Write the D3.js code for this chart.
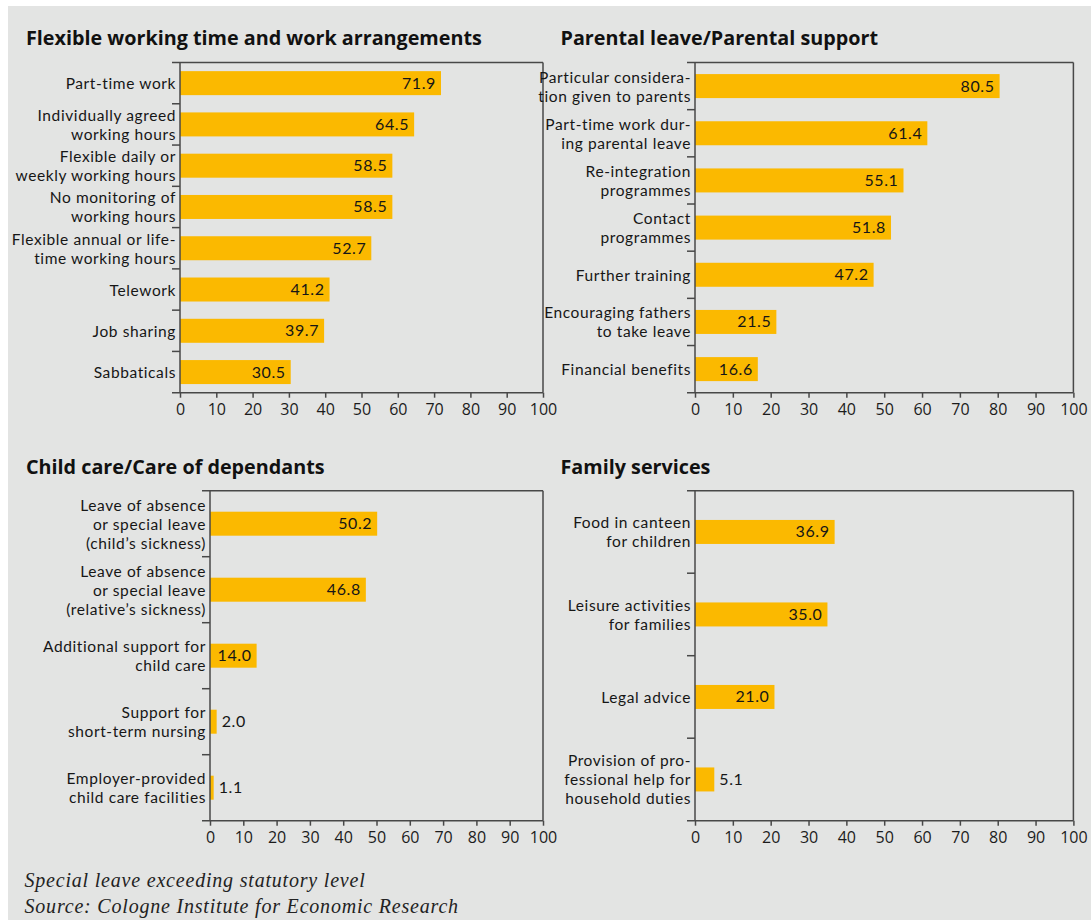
<!DOCTYPE html>
<html>
<head>
<meta charset="utf-8">
<script src="https://cdn.jsdelivr.net/npm/d3@7"></script>
<style>
  html, body { margin: 0; padding: 0; background: #ffffff; }
  svg { display: block; }
  .cat, .val { font-family: Lato, "Open Sans", sans-serif; fill: #161616; letter-spacing: 0.6px; }
  .tick text { font-family: "Open Sans", "Noto Sans", sans-serif; fill: #1c1c1c; }
  .title { font-family: "Open Sans", "Noto Sans", sans-serif; font-weight: 700; fill: #111; }
  .note { font-family: "Liberation Serif", "DejaVu Serif", serif; font-style: italic; fill: #222; letter-spacing: 0.8px; }
</style>
</head>
<body>
<svg id="chart" width="1091" height="920"></svg>
<script>
// Share of companies offering each family-friendly measure, in percent
const panelTitles = [
  "Flexible working time and work arrangements",
  "Parental leave/Parental support",
  "Child care/Care of dependants",
  "Family services"
];

const flexCategories = [
  "Part-time work",
  "Individually agreed\nworking hours",
  "Flexible daily or\nweekly working hours",
  "No monitoring of\nworking hours",
  "Flexible annual or life-\ntime working hours",
  "Telework",
  "Job sharing",
  "Sabbaticals"
];
const flexValues = [71.9, 64.5, 58.5, 58.5, 52.7, 41.2, 39.7, 30.5];

const parentalCategories = [
  "Particular considera-\ntion given to parents",
  "Part-time work dur-\ning parental leave",
  "Re-integration\nprogrammes",
  "Contact\nprogrammes",
  "Further training",
  "Encouraging fathers\nto take leave",
  "Financial benefits"
];
const parentalValues = [80.5, 61.4, 55.1, 51.8, 47.2, 21.5, 16.6];

const careCategories = [
  "Leave of absence\nor special leave\n(child\u2019s sickness)",
  "Leave of absence\nor special leave\n(relative\u2019s sickness)",
  "Additional support for\nchild care",
  "Support for\nshort-term nursing",
  "Employer-provided\nchild care facilities"
];
const careValues = [50.2, 46.8, 14.0, 2.0, 1.1];

const familyCategories = [
  "Food in canteen\nfor children",
  "Leisure activities\nfor families",
  "Legal advice",
  "Provision of pro-\nfessional help for\nhousehold duties"
];
const familyValues = [36.9, 35.0, 21.0, 5.1];

const xTicks = [0, 10, 20, 30, 40, 50, 60, 70, 80, 90, 100];

const footnotes = [
  "Special leave exceeding statutory level",
  "Source: Cologne Institute for Economic Research"
];

// ---- layout ----
const W = 1091, H = 920;
const barColor = "#fbb900";
const lineColor = "#484848";
const barH = 24;
const catFont = 15.5, lineH = 19;

const svg = d3.select("#chart");
svg.append("rect").attr("x", 8).attr("y", 6).attr("width", W - 8).attr("height", H - 6)
  .attr("fill", "#e3e4e3");

const frames = [
  { title: panelTitles[0], cats: flexCategories, vals: flexValues,
    tx: 26, ty: 45, left: 180, right: 543, top: 62.5, bottom: 392.7 },
  { title: panelTitles[1], cats: parentalCategories, vals: parentalValues,
    tx: 560.5, ty: 45, left: 695, right: 1073.4, top: 62.5, bottom: 392.7 },
  { title: panelTitles[2], cats: careCategories, vals: careValues,
    tx: 26, ty: 473.5, left: 210, right: 543, top: 490.7, bottom: 820.7 },
  { title: panelTitles[3], cats: familyCategories, vals: familyValues,
    tx: 560.5, ty: 473.5, left: 695, right: 1073.4, top: 490.7, bottom: 820.7 }
];

frames.forEach(p => {
  const g = svg.append("g");
  const x = d3.scaleLinear().domain([0, 100]).range([p.left, p.right]);
  const y = d3.scaleBand().domain(d3.range(p.cats.length)).range([p.top, p.bottom]);

  g.append("text").attr("class", "title").attr("x", p.tx).attr("y", p.ty)
    .attr("font-size", 19.75).text(p.title);

  // bars
  g.selectAll("rect.bar").data(p.vals).enter().append("rect")
    .attr("class", "bar")
    .attr("x", x(0))
    .attr("y", (d, i) => y(i) + (y.bandwidth() - barH) / 2)
    .attr("width", d => x(d) - x(0))
    .attr("height", barH)
    .attr("fill", barColor);

  // value labels: inside the bar end, or just outside for short bars
  g.selectAll("text.val").data(p.vals).enter().append("text")
    .attr("class", "val")
    .attr("font-size", 16)
    .attr("x", d => d < 10 ? x(d) + 5 : x(d) - 5)
    .attr("y", (d, i) => y(i) + y.bandwidth() / 2 + 5.5)
    .attr("text-anchor", d => d < 10 ? "start" : "end")
    .text(d => d.toFixed(1));

  // category labels (multi-line)
  p.cats.forEach((c, i) => {
    const lines = c.split("\n");
    const cy = y(i) + y.bandwidth() / 2;
    const t = g.append("text").attr("class", "cat").attr("font-size", catFont)
      .attr("text-anchor", "end");
    lines.forEach((ln, k) => {
      t.append("tspan").attr("x", p.left - 4)
        .attr("y", cy - (lines.length - 1) * lineH / 2 + k * lineH + 6)
        .text(ln);
    });
  });

  // frame
  const fr = g.append("g").attr("stroke", lineColor).attr("stroke-width", 1.5).attr("fill", "none");
  fr.append("line").attr("x1", p.left - 8).attr("x2", p.right).attr("y1", p.top).attr("y2", p.top);
  fr.append("line").attr("x1", p.right).attr("x2", p.right).attr("y1", p.top).attr("y2", p.bottom);
  fr.append("line").attr("x1", p.left).attr("x2", p.left).attr("y1", p.top).attr("y2", p.bottom);
  fr.append("line").attr("x1", p.left - 8).attr("x2", p.right).attr("y1", p.bottom).attr("y2", p.bottom);
  // category separators
  fr.selectAll("line.sep").data(d3.range(1, p.cats.length)).enter().append("line")
    .attr("class", "sep")
    .attr("x1", p.left - 8).attr("x2", p.left)
    .attr("y1", i => y(i)).attr("y2", i => y(i));

  // x axis
  const ax = g.append("g").attr("transform", `translate(0,${p.bottom})`)
    .call(d3.axisBottom(x).tickValues(xTicks).tickSize(5).tickPadding(6).tickFormat(d3.format("d")));
  ax.select(".domain").remove();
  ax.selectAll(".tick line").attr("stroke", lineColor).attr("stroke-width", 1.5);
  ax.selectAll(".tick text").attr("font-size", 16).attr("fill", "#1c1c1c");
});

// footnotes
svg.selectAll("text.note").data(footnotes).enter().append("text")
  .attr("class", "note")
  .attr("x", 24.5)
  .attr("y", (d, i) => 887.3 + i * 26)
  .attr("font-size", 20)
  .text(d => d);
</script>
</body>
</html>
